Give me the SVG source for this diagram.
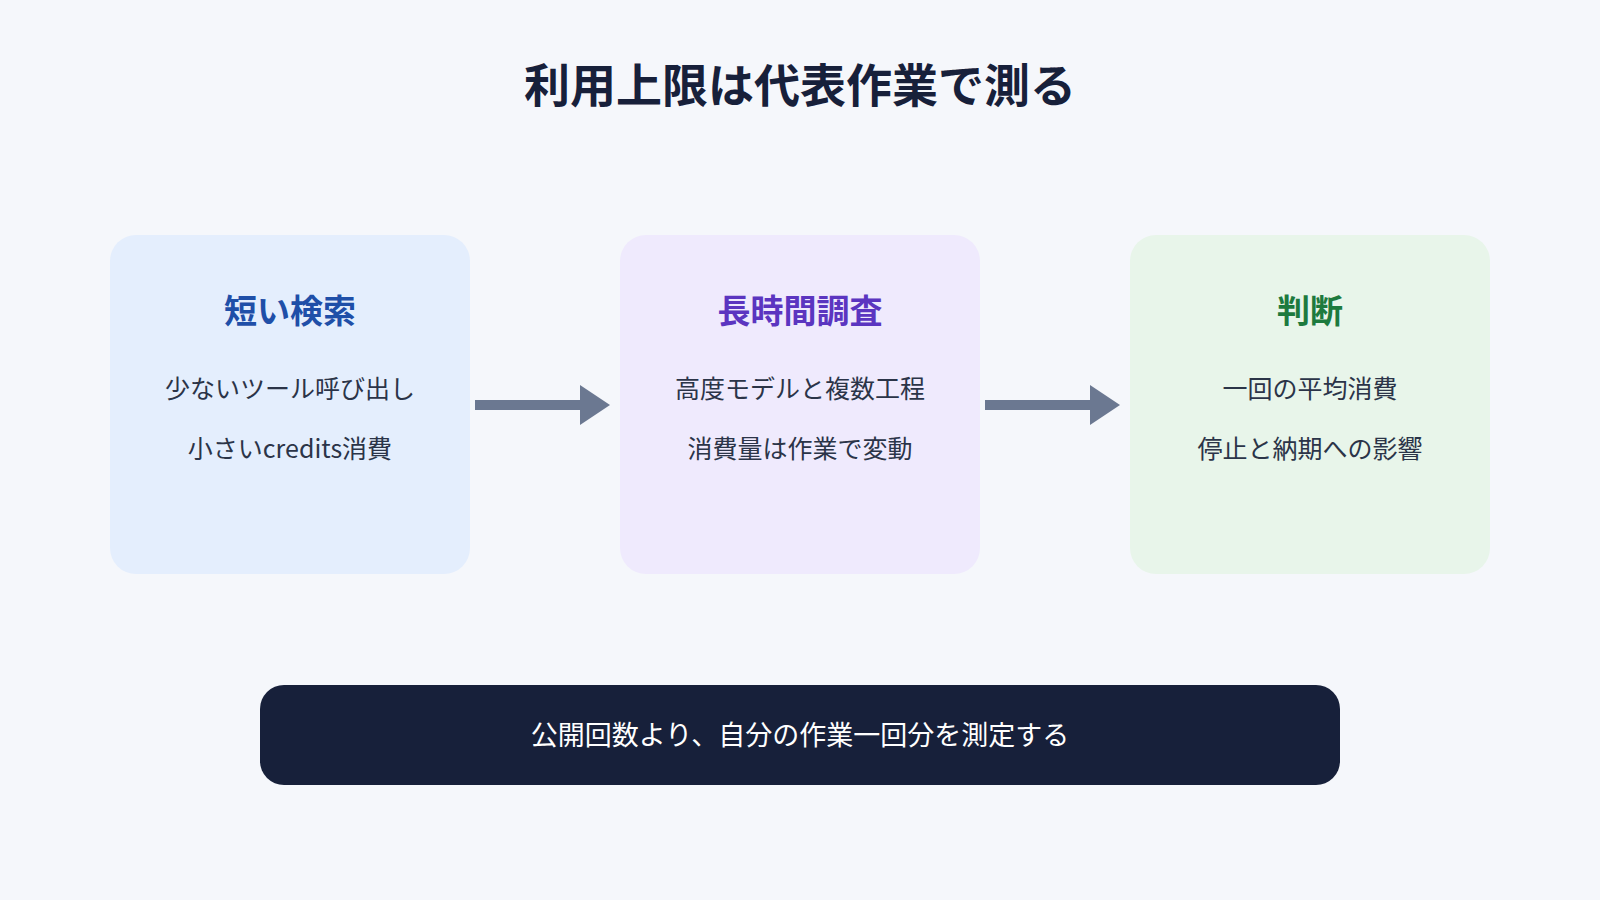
<svg xmlns="http://www.w3.org/2000/svg" width="1600" height="900" viewBox="0 0 1600 900">
<style>
text{font-family:"Noto Sans CJK JP","Noto Sans",sans-serif;text-anchor:middle}
.t{font-size:46px;font-weight:700;fill:#17203a}
.h{font-size:33px;font-weight:700}
.b{font-size:25px;fill:#2b3448}
.f{font-size:27px;fill:#ffffff}
</style>
<defs><marker id="a" markerWidth="4" markerHeight="4" refX="2" refY="2" orient="auto" markerUnits="userSpaceOnUse" viewBox="0 0 4 4"><path d="M0,0L4,2L0,4Z" fill="#6b7891"/></marker></defs>
<rect width="1600" height="900" fill="#f5f7fb"/>
<text class="t" x="800" y="102">利用上限は代表作業で測る</text>
<g id="n1"><rect x="110" y="235" width="360" height="339" rx="26" fill="#e4eefd"/>
<text class="h" x="290" y="323" fill="#1f4fa8">短い検索</text>
<text class="b" x="290" y="398">少ないツール呼び出し</text>
<text class="b" x="290" y="458">小さいcredits消費</text></g>
<g id="n2"><rect x="620" y="235" width="360" height="339" rx="26" fill="#efeafd"/>
<text class="h" x="800" y="323" fill="#5b35c0">長時間調査</text>
<text class="b" x="800" y="398">高度モデルと複数工程</text>
<text class="b" x="800" y="458">消費量は作業で変動</text></g>
<g id="n3"><rect x="1130" y="235" width="360" height="339" rx="26" fill="#e8f5ea"/>
<text class="h" x="1310" y="323" fill="#1d7a3e">判断</text>
<text class="b" x="1310" y="398">一回の平均消費</text>
<text class="b" x="1310" y="458">停止と納期への影響</text></g>
<g id="connectors" stroke="#6b7891" stroke-width="10" fill="none">
<line x1="475" y1="405" x2="582" y2="405"/>
<path d="M580,385L610,405L580,425Z" fill="#6b7891" stroke="none"/>
<line x1="985" y1="405" x2="1092" y2="405"/>
<path d="M1090,385L1120,405L1090,425Z" fill="#6b7891" stroke="none"/>
</g>
<g id="footer"><rect x="260" y="685" width="1080" height="100" rx="24" fill="#17203a"/>
<text class="f" x="800" y="745">公開回数より、自分の作業一回分を測定する</text></g>
</svg>
